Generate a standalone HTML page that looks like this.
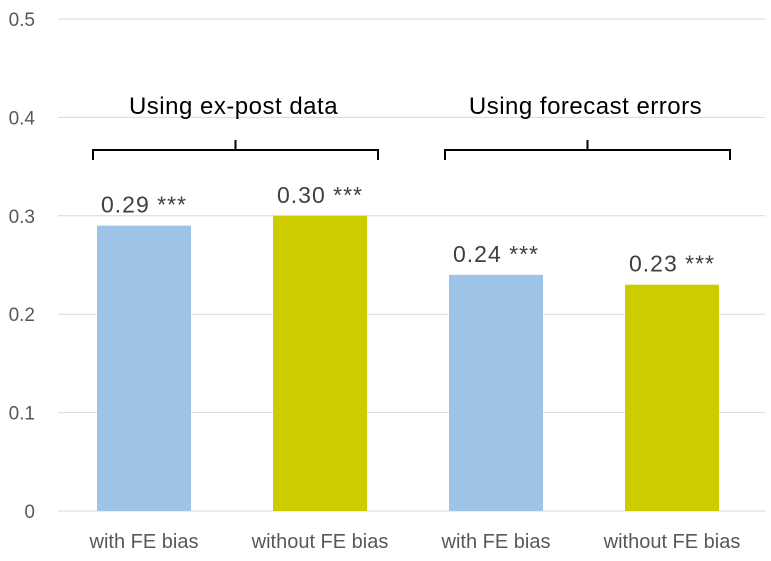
<!DOCTYPE html>
<html><head><meta charset="utf-8"><style>
body{margin:0;background:#fff;}
svg{display:block;font-family:"Liberation Sans",Arial,sans-serif;}
</style></head><body>
<svg id="chart" width="771" height="561"></svg>
<script>
const categories=["with FE bias","without FE bias","with FE bias","without FE bias"];
const values=[0.29,0.30,0.24,0.23];
const valueLabels=["0.29 ***","0.30 ***","0.24 ***","0.23 ***"];
const colors=["#9DC3E6","#CCCC00","#9DC3E6","#CCCC00"];
const yTicks=[0,0.1,0.2,0.3,0.4,0.5];
const yTickLabels=["0","0.1","0.2","0.3","0.4","0.5"];
const groups=["Using ex-post data","Using forecast errors"];

const NS="http://www.w3.org/2000/svg";
const svg=document.getElementById('chart');
const left=56,right=760,y0=511,y1=19;
const y=v=>y0-(v/0.5)*(y0-y1);
const bw=(right-left)/categories.length;
const x=i=>left+bw*(i+0.5);
function mk(t,a){const e=document.createElementNS(NS,t);for(const k in a)e.setAttribute(k,a[k]);svg.appendChild(e);return e;}

yTicks.forEach((t,i)=>{
  const l=mk('line',{x1:58,x2:765,y1:y(t),y2:y(t),stroke:'#d9d9d9','stroke-width':1});
  
  
  const tx=mk('text',{x:35,y:y(t)+7,'text-anchor':'end','font-size':19,fill:'#595959'});
  tx.textContent=yTickLabels[i];
  
  
});

values.forEach((v,i)=>{
  const r=mk('rect',{x:x(i)-47,y:y(v),width:94,height:y0-y(v),fill:colors[i]});
  
  
  const t=mk('text',{x:x(i),y:y(v)-13,'text-anchor':'middle','font-size':23,'letter-spacing':1,fill:'#404040'});
  t.textContent=valueLabels[i];
  
  
  const c=mk('text',{x:x(i),y:548,'text-anchor':'middle','font-size':20,fill:'#595959'});
  c.textContent=categories[i];
  
  
});

groups.forEach((g,k)=>{
  const a=x(2*k)-51,b=x(2*k+1)+58,m=(a+b)/2;
  const p=mk('path',{d:`M${a} 160 L${a} 150 L${m} 150 L${m} 140 M${m} 150 L${b} 150 L${b} 160`,fill:'none',stroke:'#000','stroke-width':2});
  
  
  const t=mk('text',{x:m-2,y:114,'text-anchor':'middle','font-size':24,'letter-spacing':0.5,fill:'#000'});
  t.textContent=g;
  
  
});
</script>
</body></html>
